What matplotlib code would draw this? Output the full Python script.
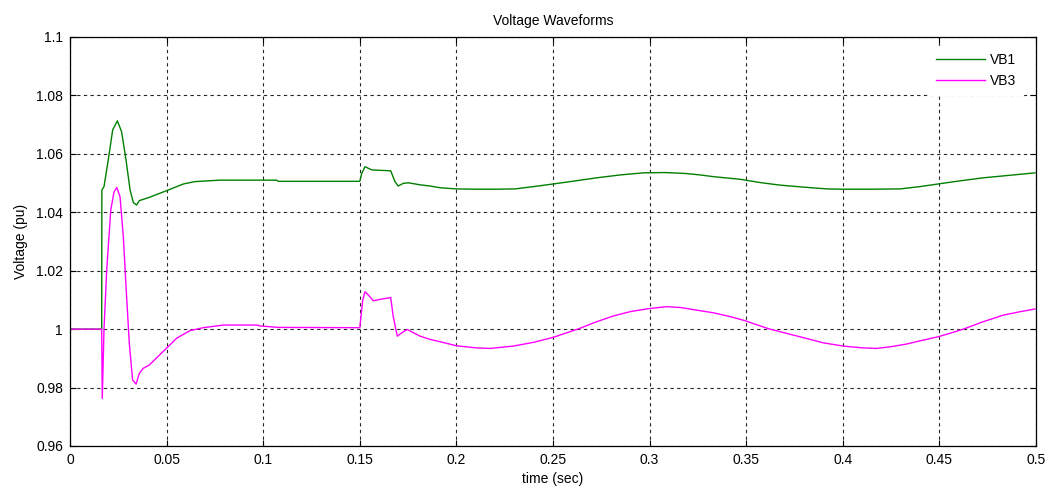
import matplotlib
matplotlib.use("Agg")
import matplotlib.pyplot as plt

plt.rcParams['font.family'] = ['Liberation Sans', 'DejaVu Sans']

# Bus voltage samples (time in s, voltage in pu)
t_vb1 = [0.0, 0.0164, 0.0165, 0.0176, 0.0198, 0.0221, 0.0245, 0.0267, 0.029,
         0.0311, 0.0328, 0.0345, 0.0359, 0.041, 0.050, 0.0587, 0.0647, 0.0776,
         0.107, 0.1078, 0.1500, 0.1510, 0.1527, 0.1562, 0.166, 0.1682, 0.1699,
         0.1725, 0.1751, 0.1812, 0.1863, 0.1915, 0.2001, 0.21, 0.22, 0.2303,
         0.24, 0.2502, 0.26, 0.2726, 0.285, 0.2967, 0.308, 0.3183, 0.326,
         0.333, 0.3468, 0.358, 0.3675, 0.38, 0.3917, 0.40, 0.415, 0.4296,
         0.44, 0.4494, 0.46, 0.4727, 0.487, 0.4995]
v_vb1 = [1.0, 1.0, 1.0476, 1.0488, 1.0579, 1.0682, 1.0713, 1.0676, 1.0579,
         1.0476, 1.0433, 1.0425, 1.0440, 1.0451, 1.0474, 1.0497, 1.0505, 1.0510,
         1.0510, 1.0506, 1.0506, 1.0533, 1.0556, 1.0545, 1.0542, 1.0505, 1.0490,
         1.0499, 1.0501, 1.0494, 1.0490, 1.0484, 1.0480, 1.0479, 1.0479, 1.0480,
         1.0488, 1.0497, 1.0506, 1.0518, 1.0528, 1.0535, 1.0536, 1.0533, 1.0528,
         1.0522, 1.0513, 1.0501, 1.0493, 1.0486, 1.0480, 1.0479, 1.0479, 1.0480,
         1.0488, 1.0497, 1.0507, 1.0518, 1.0527, 1.0535]

t_vb3 = [0.0, 0.0164, 0.0167, 0.0176, 0.019, 0.0211, 0.0228, 0.0242, 0.0259,
         0.0276, 0.0293, 0.0307, 0.0324, 0.0342, 0.0359, 0.0379, 0.041, 0.050,
         0.0552, 0.0621, 0.069, 0.0794, 0.0966, 0.0983, 0.1078, 0.1500, 0.1515,
         0.1527, 0.1544, 0.157, 0.1605, 0.166, 0.1673, 0.1694, 0.1725, 0.1746,
         0.1777, 0.1812, 0.1863, 0.1915, 0.2001, 0.21, 0.2174, 0.2295, 0.24,
         0.2502, 0.264, 0.272, 0.2812, 0.29, 0.2993, 0.3088, 0.316, 0.3244,
         0.333, 0.3416, 0.3494, 0.355, 0.3623, 0.37, 0.3813, 0.39, 0.4003,
         0.41, 0.4175, 0.425, 0.433, 0.44, 0.4494, 0.456, 0.4624, 0.472,
         0.4831, 0.492, 0.4995]
v_vb3 = [1.0, 1.0, 0.9763, 1.0000, 1.0202, 1.0408, 1.0470, 1.0485, 1.0453,
         1.0316, 1.0111, 0.9951, 0.9826, 0.9812, 0.9849, 0.9866, 0.9877, 0.9935,
         0.9969, 0.9995, 1.0005, 1.0014, 1.0014, 1.0011, 1.0006, 1.0005, 1.0099,
         1.0128, 1.0117, 1.0097, 1.0102, 1.0108, 1.0043, 0.9976, 0.9991, 0.9999,
         0.9988, 0.9976, 0.9965, 0.9957, 0.9943, 0.9936, 0.9934, 0.9942, 0.9955,
         0.9972, 1.0003, 1.0024, 1.0045, 1.0060, 1.0070, 1.0077, 1.0074, 1.0065,
         1.0056, 1.0043, 1.0029, 1.0016, 1.0000, 0.9987, 0.9968, 0.9953, 0.9942,
         0.9936, 0.9934, 0.9940, 0.9949, 0.9960, 0.9974, 0.9987, 1.0000, 1.0024,
         1.0048, 1.0060, 1.0069]

x_ticks = [0, 0.05, 0.1, 0.15, 0.2, 0.25, 0.3, 0.35, 0.4, 0.45, 0.5]
x_tick_labels = ['0', '0.05', '0.1', '0.15', '0.2', '0.25', '0.3', '0.35', '0.4', '0.45', '0.5']
y_ticks = [0.96, 0.98, 1.0, 1.02, 1.04, 1.06, 1.08, 1.1]
y_tick_labels = ['0.96', '0.98', '1', '1.02', '1.04', '1.06', '1.08', '1.1']

fig = plt.figure(figsize=(10.45, 4.92), dpi=100, facecolor='white')
ax = fig.add_axes([70 / 1045, 46 / 492, 966 / 1045, 409 / 492])

ax.plot(t_vb1, v_vb1, color='#008000', linewidth=1.0, label='VB1')
ax.plot(t_vb3, v_vb3, color='#ff00ff', linewidth=1.0, label='VB3')

ax.set_xlim(0, 0.5)
ax.set_ylim(0.96, 1.1)
ax.set_xticks(x_ticks)
ax.set_xticklabels(x_tick_labels)
ax.set_yticks(y_ticks)
ax.set_yticklabels(y_tick_labels)

ax.grid(True, color='black', linestyle=(0, (3, 3)), linewidth=0.8, alpha=0.85)
ax.set_axisbelow(True)
ax.tick_params(direction='in', length=4, width=0.8, top=True, right=True,
               labelsize=10, colors='black', pad=5)
for s in ax.spines.values():
    s.set_linewidth(0.9)
    s.set_color('black')

ax.set_title('Voltage Waveforms', fontsize=10, pad=9)
ax.set_xlabel('time (sec)', fontsize=10, labelpad=4)
ax.set_ylabel('Voltage (pu)', fontsize=10, labelpad=6)

leg = ax.legend(loc='upper right', bbox_to_anchor=(0.994, 0.996), fontsize=10,
                handlelength=3.5, handletextpad=0.4, labelspacing=0.55,
                borderpad=0.5, frameon=True, fancybox=False, framealpha=1.0,
                edgecolor='white', facecolor='white')

fig.savefig('out.png', dpi=100, facecolor='white')
